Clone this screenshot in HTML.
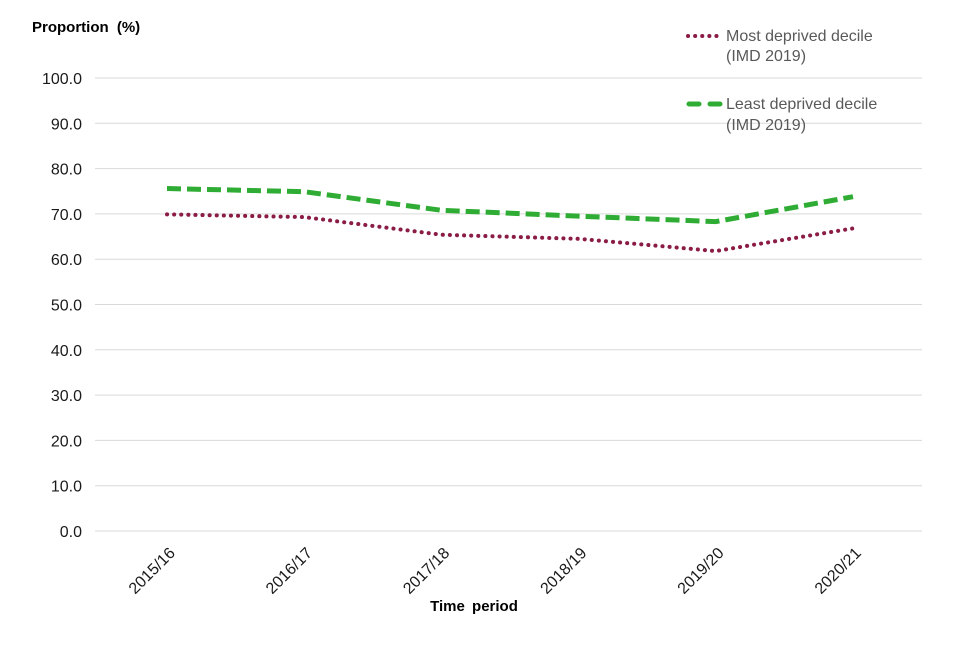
<!DOCTYPE html>
<html><head><meta charset="utf-8"><style>
body{margin:0;background:#fff;font-family:"Liberation Sans",Arial,sans-serif}
svg text{font-family:"Liberation Sans",Arial,sans-serif}
</style></head><body>
<svg id="chart" width="960" height="640">
<text x="32" y="32" font-size="15" font-weight="bold" fill="#000" style="word-spacing:4px">Proportion (%)</text>
<text x="474" y="611" font-size="15" font-weight="bold" text-anchor="middle" fill="#000" style="word-spacing:3px">Time period</text>
<g id="grid"></g><g id="series"></g>
<g>
<line x1="688" y1="36" x2="722" y2="36" stroke="#8b1c45" stroke-width="4" stroke-dasharray="0.1 7" stroke-linecap="round"/>
<text x="726" y="41" font-size="16" fill="#595959">Most deprived decile</text>
<text x="726" y="61" font-size="16" fill="#595959">(IMD 2019)</text>
<line x1="689" y1="104" x2="720" y2="104" stroke="#2eac33" stroke-width="5" stroke-dasharray="10 11" stroke-linecap="round"/>
<text x="726" y="109" font-size="16" fill="#595959">Least deprived decile</text>
<text x="726" y="130" font-size="16" fill="#595959">(IMD 2019)</text>
</g>
</svg>
<script>
const categories=["2015/16","2016/17","2017/18","2018/19","2019/20","2020/21"];
const mostDeprived=[69.9,69.3,65.4,64.5,61.8,66.8];
const leastDeprived=[75.6,74.9,70.8,69.5,68.3,73.8];
const yTicks=[0,10,20,30,40,50,60,70,80,90,100];
const NS="http://www.w3.org/2000/svg";
const y=v=>531-v*4.53;
const x=i=>167+i*137.2;
function mk(t,a,p){const e=document.createElementNS(NS,t);for(const k in a)e.setAttribute(k,a[k]);p.appendChild(e);return e;}
const grid=document.getElementById('grid');
yTicks.forEach(t=>{
 const l=mk('line',{x1:95,x2:922,y1:y(t),y2:y(t),stroke:'#d9d9d9','stroke-width':1},grid);
 
 
 const tx=mk('text',{x:82,y:y(t)+6,'font-size':16,'text-anchor':'end',fill:'#1a1a1a'},grid);
 tx.textContent=t.toFixed(1);
 
 
});
categories.forEach((c,i)=>{
 const tx=mk('text',{x:0,y:0,'font-size':16,'text-anchor':'end',fill:'#1a1a1a',transform:`translate(${x(i)+9},${554}) rotate(-45)`},grid);
 tx.textContent=c;
 
 
});
const s=document.getElementById('series');
const p1=mk('polyline',{points:mostDeprived.map((v,i)=>x(i)+','+y(v)).join(' '),fill:'none',stroke:'#8b1c45','stroke-width':4,'stroke-dasharray':'0.1 7','stroke-linecap':'round'},s);


const p2=mk('polyline',{points:leastDeprived.map((v,i)=>x(i)+','+y(v)).join(' '),fill:'none',stroke:'#2eac33','stroke-width':5,'stroke-dasharray':'14 6'},s);


</script>
</body></html>
